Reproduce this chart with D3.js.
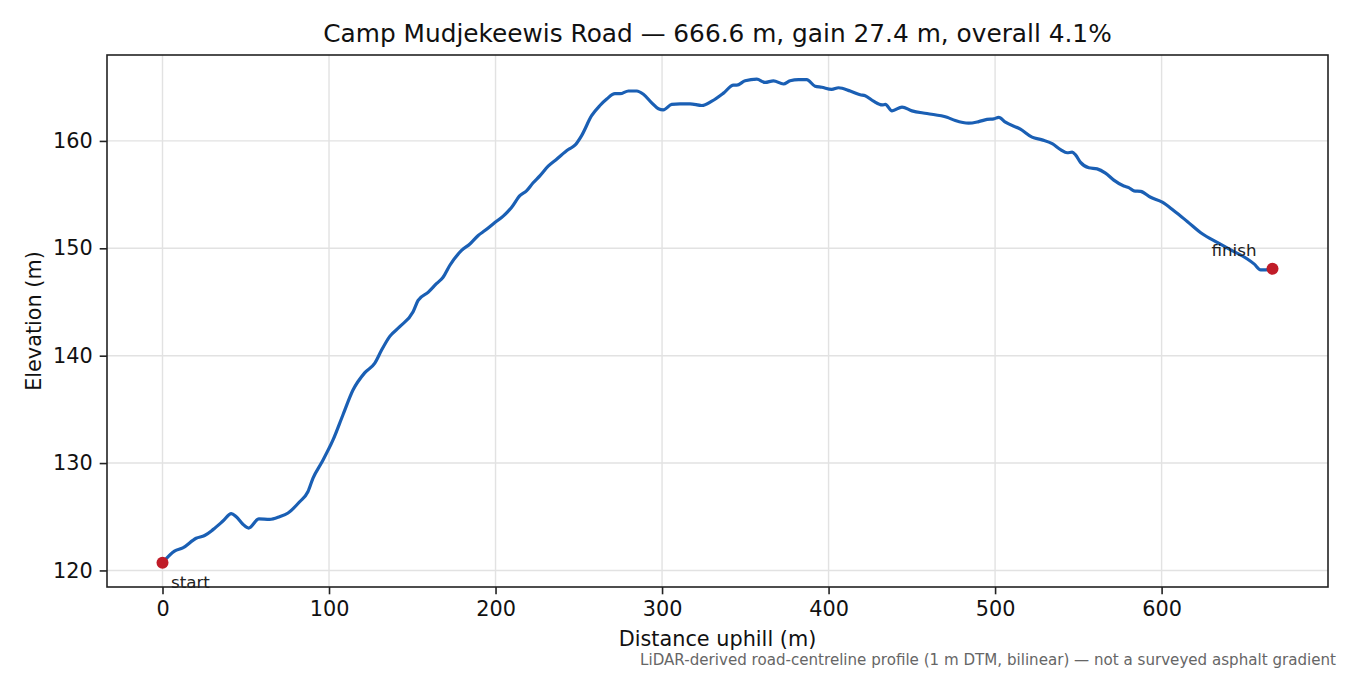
<!DOCTYPE html>
<html>
<head>
<meta charset="utf-8">
<script src="https://cdn.jsdelivr.net/npm/d3@7"></script>
<style>
  body { margin: 0; background: #fff; }
  svg { display: block; font-family: "DejaVu Sans", sans-serif; }
</style>
</head>
<body>
<svg id="chart" width="1350" height="675"></svg>
<script>
// profile, distance uphill (m) vs elevation (m)
const distance = [0, 7.2, 12.2, 20.2, 25.3, 30.3, 36.3, 41.3, 44.3, 48.3, 51.7, 57.9, 64.3, 70.3, 75.4,
    82.4, 87.4, 90.4, 95.4, 102.4, 108.4, 114.4, 121.4, 127.5, 131.5, 136.5, 142.5, 150.5, 153.5, 159.5,
    164.5, 168.5, 172.5, 179.6, 184.6, 189.6, 193.6, 199.6, 204.6, 209.6, 214.6, 218.6, 222.6, 226.6,
    231.6, 236.7, 243.7, 247.7, 251.7, 257.7, 262.7, 266.8, 271.7, 274.8, 279.8, 284.8, 288.8, 293.8,
    297.8, 300.8, 305.8, 310.8, 316.8, 323.9, 329.9, 336.9, 342.9, 344.9, 349.9, 356.9, 361.9, 366.9,
    372.9, 376.9, 382.0, 386.9, 391.9, 395.9, 401.9, 406.0, 413.0, 419.0, 422.0, 427.0, 432.1, 434.1,
    438.1, 444.1, 450.1, 459.1, 471.1, 476.1, 484.1, 490.2, 495.2, 499.2, 502.2, 506.2, 515.2, 522.2,
    528.2, 534.3, 539.3, 543.3, 546.3, 548.3, 551.3, 556.3, 561.3, 566.3, 571.3, 577.3, 580.3, 583.4,
    587.4, 593.4, 600.4, 607.4, 615.4, 624.4, 633.4, 641.5, 651.5, 655.5, 659.5, 662.5, 666.6];

const elevation = [120.71, 121.8, 122.1, 123.0, 123.25, 123.8, 124.6, 125.3, 125.0, 124.3, 123.95, 124.8,
    124.75, 125.0, 125.35, 126.4, 127.35, 128.6, 130.0, 132.15, 134.5, 136.8, 138.4, 139.3, 140.5, 141.8,
    142.7, 144.1, 145.15, 145.9, 146.7, 147.3, 148.4, 149.8, 150.4, 151.2, 151.65, 152.4, 153.0, 153.8,
    154.9, 155.35, 156.1, 156.75, 157.65, 158.3, 159.2, 159.6, 160.5, 162.35, 163.3, 163.9, 164.4, 164.4,
    164.65, 164.65, 164.35, 163.55, 163.0, 162.9, 163.4, 163.45, 163.45, 163.3, 163.7, 164.45, 165.2,
    165.2, 165.6, 165.75, 165.45, 165.6, 165.3, 165.6, 165.7, 165.7, 165.1, 165.0, 164.8, 164.95, 164.65,
    164.3, 164.2, 163.7, 163.35, 163.4, 162.8, 163.15, 162.8, 162.55, 162.2, 161.9, 161.65, 161.8, 162.0,
    162.05, 162.2, 161.75, 161.1, 160.35, 160.1, 159.75, 159.2, 158.9, 158.95, 158.7, 158.0, 157.5, 157.4,
    157.0, 156.35, 155.8, 155.65, 155.35, 155.3, 154.75, 154.3, 153.5, 152.5, 151.35, 150.55, 149.85,
    149.0, 148.55, 148.0, 148.0, 148.1];

const xTicks = [0, 100, 200, 300, 400, 500, 600];
const yTicks = [120, 130, 140, 150, 160];

const endLabels = ["start", "finish"];

const titleText = "Camp Mudjekeewis Road \u2014 666.6 m, gain 27.4 m, overall 4.1%";
const xLabel = "Distance uphill (m)";
const yLabel = "Elevation (m)";
const noteText = "LiDAR-derived road-centreline profile (1 m DTM, bilinear) \u2014 not a surveyed asphalt gradient";


function drawChart() {
    const svg = d3.select("#chart");
    const m = {left: 107, right: 1328, top: 55, bottom: 587};

    const points = distance.map((d, i) => ({x: d, y: elevation[i]}));

    // matplotlib style 5% margins
    const xExt = d3.extent(distance), yExt = d3.extent(elevation);
    const xPad = (xExt[1] - xExt[0]) * 0.05, yPad = (yExt[1] - yExt[0]) * 0.05;

    const x = d3.scaleLinear()
        .domain([xExt[0] - xPad, xExt[1] + xPad])
        .range([m.left, m.right]);
    const y = d3.scaleLinear()
        .domain([yExt[0] - yPad, yExt[1] + yPad])
        .range([m.bottom, m.top]);

    // grid
    svg.append("g")
        .selectAll("line")
        .data(xTicks)
        .join("line")
        .attr("x1", d => x(d)).attr("x2", d => x(d))
        .attr("y1", m.top).attr("y2", m.bottom)
        .attr("stroke", "#e2e2e2").attr("stroke-width", 1.4);

    svg.append("g")
        .selectAll("line")
        .data(yTicks)
        .join("line")
        .attr("x1", m.left).attr("x2", m.right)
        .attr("y1", d => y(d)).attr("y2", d => y(d))
        .attr("stroke", "#e2e2e2").attr("stroke-width", 1.4);

    // profile line
    const line = d3.line()
        .x(d => x(d.x))
        .y(d => y(d.y))
        .curve(d3.curveMonotoneX);

    svg.append("path")
        .datum(points)
        .attr("d", line)
        .attr("fill", "none")
        .attr("stroke", "#1a5fb4")
        .attr("stroke-width", 3.2)
        .attr("stroke-linejoin", "round")
        .attr("stroke-linecap", "round");

    // start / finish markers
    const ends = [points[0], points[points.length - 1]];

    svg.append("g")
        .selectAll("circle")
        .data(ends)
        .join("circle")
        .attr("cx", d => x(d.x))
        .attr("cy", d => y(d.y))
        .attr("r", 6)
        .attr("fill", "#c01c28");

    svg.append("g")
        .selectAll("text")
        .data(ends)
        .join("text")
        .attr("x", (d, i) => x(d.x) + (i === 0 ? 8.5 : -16))
        .attr("y", (d, i) => y(d.y) + (i === 0 ? 25 : -13))
        .attr("text-anchor", (d, i) => i === 0 ? "start" : "end")
        .style("font-size", "16.7px")
        .attr("fill", "#222")
        .text((d, i) => endLabels[i]);

    // axes
    const xAxis = d3.axisBottom(x)
        .tickValues(xTicks)
        .tickSize(7.3)
        .tickPadding(7)
        .tickFormat(d3.format("d"));
    const yAxis = d3.axisLeft(y)
        .tickValues(yTicks)
        .tickSize(7.3)
        .tickPadding(7)
        .tickFormat(d3.format("d"));

    const gx = svg.append("g")
        .attr("transform", `translate(0,${m.bottom})`)
        .call(xAxis);
    const gy = svg.append("g")
        .attr("transform", `translate(${m.left},0)`)
        .call(yAxis);

    [gx, gy].forEach(g => {
        g.select(".domain").remove();
        g.selectAll(".tick line").attr("stroke", "#222").attr("stroke-width", 1.6);
        g.selectAll(".tick text")
            .attr("fill", "#111")
            .style("font-size", "20.8px")
            .style("font-family", "DejaVu Sans");
    });

    // frame
    svg.append("rect")
        .attr("x", m.left).attr("y", m.top)
        .attr("width", m.right - m.left)
        .attr("height", m.bottom - m.top)
        .attr("fill", "none")
        .attr("stroke", "#222")
        .attr("stroke-width", 1.6);

    // texts
    svg.append("text")
        .attr("x", (m.left + m.right) / 2)
        .attr("y", 42)
        .attr("text-anchor", "middle")
        .style("font-size", "24.8px")
        .attr("fill", "#111")
        .text(titleText);

    svg.append("text")
        .attr("x", (m.left + m.right) / 2)
        .attr("y", 646)
        .attr("text-anchor", "middle")
        .style("font-size", "20.8px")
        .attr("fill", "#111")
        .text(xLabel);

    svg.append("text")
        .attr("transform", `translate(41,${(m.top + m.bottom) / 2}) rotate(-90)`)
        .attr("text-anchor", "middle")
        .style("font-size", "20.8px")
        .attr("fill", "#111")
        .text(yLabel);

    svg.append("text")
        .attr("x", 1336)
        .attr("y", 665)
        .attr("text-anchor", "end")
        .style("font-size", "15.1px")
        .attr("fill", "#666")
        .text(noteText);
}

drawChart();
</script>
</body>
</html>
